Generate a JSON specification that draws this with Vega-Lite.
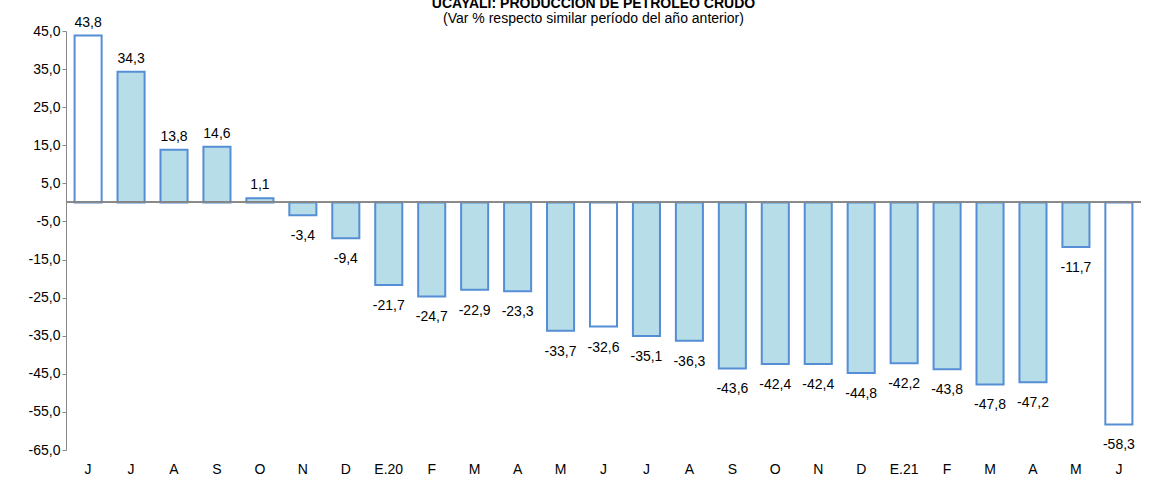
{
  "$schema": "https://vega.github.io/schema/vega-lite/v6.json",
  "autosize": "none",
  "width": 1075,
  "height": 419,
  "padding": {"left": 66, "top": 31, "right": 26, "bottom": 27},
  "config": {
    "locale": {"number": {"decimal": ",", "thousands": ".", "grouping": [3], "currency": ["", ""], "minus": "-"}},
    "view": {"stroke": null},
    "font": "Liberation Sans"
  },
  "title": {
    "text": "UCAYALI: PRODUCCIÓN DE PETRÓLEO CRUDO",
    "subtitle": "(Var % respecto similar período del año anterior)",
    "fontSize": 14,
    "subtitleFontSize": 14,
    "color": "black",
    "subtitleColor": "black",
    "subtitlePadding": 1,
    "offset": -10,
    "anchor": "middle",
    "dx": -10
  },
  "data": {
    "values": [
      {"k": "J_1", "v": 43.8, "w": true},
      {"k": "J_2", "v": 34.3},
      {"k": "A_3", "v": 13.8},
      {"k": "S_4", "v": 14.6},
      {"k": "O_5", "v": 1.1},
      {"k": "N_6", "v": -3.4},
      {"k": "D_7", "v": -9.4},
      {"k": "E.20_8", "v": -21.7},
      {"k": "F_9", "v": -24.7},
      {"k": "M_10", "v": -22.9},
      {"k": "A_11", "v": -23.3},
      {"k": "M_12", "v": -33.7},
      {"k": "J_13", "v": -32.6, "w": true},
      {"k": "J_14", "v": -35.1},
      {"k": "A_15", "v": -36.3},
      {"k": "S_16", "v": -43.6},
      {"k": "O_17", "v": -42.4},
      {"k": "N_18", "v": -42.4},
      {"k": "D_19", "v": -44.8},
      {"k": "E.21_20", "v": -42.2},
      {"k": "F_21", "v": -43.8},
      {"k": "M_22", "v": -47.8},
      {"k": "A_23", "v": -47.2},
      {"k": "M_24", "v": -11.7},
      {"k": "J_25", "v": -58.3, "w": true}
    ]
  },
  "encoding": {
    "x": {
      "field": "k", "type": "nominal", "sort": null,
      "scale": {"paddingInner": 0.37, "paddingOuter": 0.2},
      "axis": {"title": null, "domain": false, "ticks": false, "labelAngle": 0, "labelFontSize": 14, "labelColor": "black", "labelPadding": 12, "labelExpr": "split(datum.label, '_')[0]"}
    },
    "y": {
      "field": "v", "type": "quantitative",
      "scale": {"domain": [-65, 45], "nice": false, "zero": false},
      "axis": {"title": null, "grid": false, "values": [-65, -55, -45, -35, -25, -15, -5, 5, 15, 25, 35, 45], "format": ".1f", "labelFontSize": 14, "labelColor": "black", "domainColor": "#888", "tickColor": "#888", "tickSize": 4}
    }
  },
  "layer": [
    {
      "mark": {"type": "bar", "stroke": "#558ed5", "strokeWidth": 2},
      "encoding": {
        "fill": {"condition": {"test": "datum.w", "value": "white"}, "value": "#b7dee8"}
      }
    },
    {
      "mark": {"type": "rule", "color": "#888"},
      "encoding": {"y": {"datum": 0}, "x": null}
    },
    {
      "transform": [{"filter": "datum.v >= 0"}],
      "mark": {"type": "text", "baseline": "bottom", "dy": -6, "fontSize": 14},
      "encoding": {"text": {"field": "v", "format": ".1f"}}
    },
    {
      "transform": [{"filter": "datum.v < 0"}],
      "mark": {"type": "text", "baseline": "top", "dy": 14, "fontSize": 14},
      "encoding": {"text": {"field": "v", "format": ".1f"}}
    }
  ]
}
